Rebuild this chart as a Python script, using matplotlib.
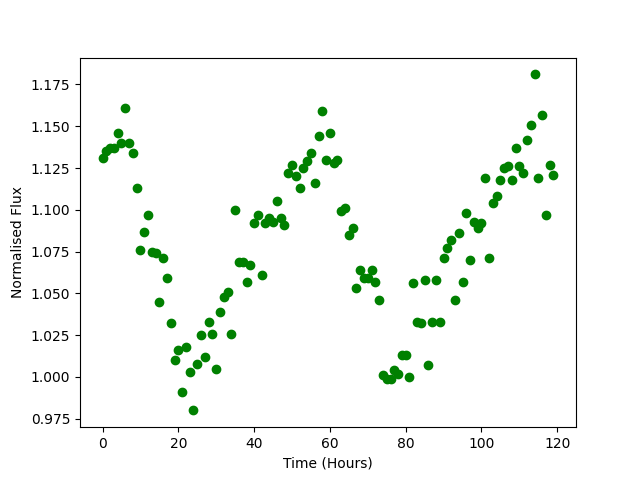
import numpy as np
import matplotlib
matplotlib.use("Agg")
import matplotlib.pyplot as plt

hours = np.arange(120)
flux = [
    1.131, 1.135, 1.137, 1.137, 1.146, 1.140, 1.161, 1.140, 1.134, 1.113,
    1.076, 1.087, 1.097, 1.075, 1.074, 1.045, 1.071, 1.059, 1.032, 1.010,
    1.016, 0.991, 1.018, 1.003, 0.980, 1.008, 1.025, 1.012, 1.033, 1.026,
    1.005, 1.039, 1.048, 1.051, 1.026, 1.100, 1.069, 1.069, 1.057, 1.067,
    1.092, 1.097, 1.061, 1.092, 1.095, 1.093, 1.105, 1.095, 1.091, 1.122,
    1.127, 1.120, 1.113, 1.125, 1.129, 1.134, 1.116, 1.144, 1.159, 1.130,
    1.146, 1.128, 1.130, 1.099, 1.101, 1.085, 1.089, 1.053, 1.064, 1.059,
    1.059, 1.064, 1.057, 1.046, 1.001, 0.999, 0.999, 1.004, 1.002, 1.013,
    1.013, 1.000, 1.056, 1.033, 1.032, 1.058, 1.007, 1.033, 1.058, 1.033,
    1.071, 1.077, 1.082, 1.046, 1.086, 1.057, 1.098, 1.070, 1.093, 1.089,
    1.092, 1.119, 1.071, 1.104, 1.108, 1.118, 1.125, 1.126, 1.118, 1.137,
    1.126, 1.122, 1.142, 1.151, 1.181, 1.119, 1.157, 1.097, 1.127, 1.121,
]

fig = plt.figure(figsize=(6.4, 4.8), dpi=100)
plt.scatter(hours, flux, color='green')
plt.xlabel('Time (Hours)')
plt.ylabel('Normalised Flux')
plt.savefig('out.png')
